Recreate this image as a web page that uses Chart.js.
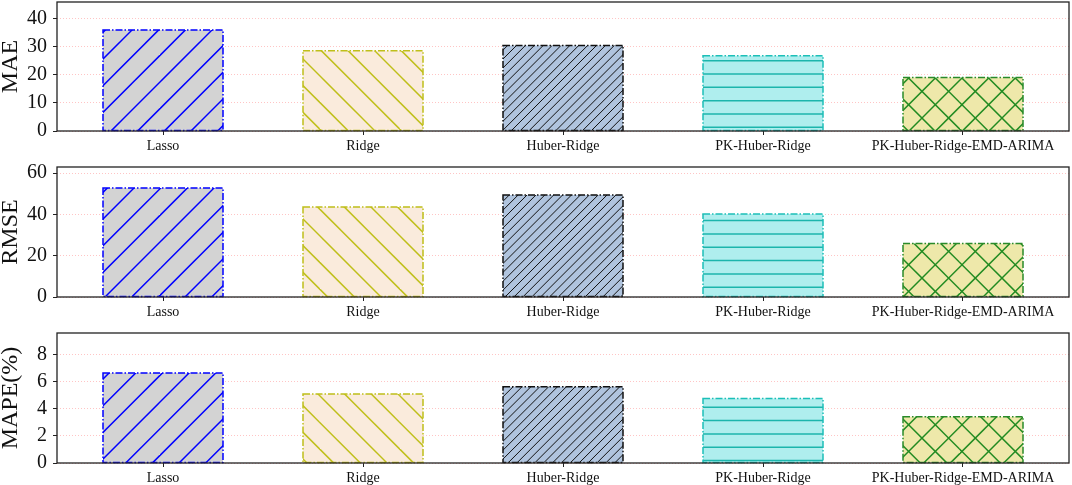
<!DOCTYPE html>
<html>
<head>
<meta charset="utf-8">
<script src="https://cdn.jsdelivr.net/npm/chart.js@4.4.1/dist/chart.umd.min.js"></script>
<style>
  html, body { margin: 0; padding: 0; background: #ffffff; }
  body { width: 1072px; height: 485px; position: relative; overflow: hidden; }
  .panel { position: absolute; left: 0; width: 1072px; }
</style>
</head>
<body>
<div class="panel" id="p1" style="top:0px;height:160px;"><canvas id="c1"></canvas></div>
<div class="panel" id="p2" style="top:160px;height:165px;"><canvas id="c2"></canvas></div>
<div class="panel" id="p3" style="top:325px;height:160px;"><canvas id="c3"></canvas></div>
<script>
// ---------------- data ----------------
const categories = ['Lasso', 'Ridge', 'Huber-Ridge', 'PK-Huber-Ridge', 'PK-Huber-Ridge-EMD-ARIMA'];
const maeValues  = [36.0, 28.6, 30.5, 26.8, 19.1];
const rmseValues = [52.8, 43.6, 49.4, 40.2, 25.9];
const mapeValues = [6.64, 5.09, 5.63, 4.77, 3.41];

const maeTicks  = { max: 46,  step: 10 };
const rmseTicks = { max: 63,  step: 20 };
const mapeTicks = { max: 9.6, step: 2 };

// ---------------- styles ----------------
const barStyles = [
  { fill: '#d3d3d3', hatch: '/',   hatchColor: '#0000ff', hatchWidth: 1.5, spacing: 26.67, edge: '#0000ff' },
  { fill: '#faebdc', hatch: '\\',  hatchColor: '#bfbf1a', hatchWidth: 1.5, spacing: 26.67, edge: '#bfbf1a' },
  { fill: '#b0c4de', hatch: '/',   hatchColor: '#111111', hatchWidth: 1.0, spacing: 8.89,  edge: '#111111' },
  { fill: '#afeeee', hatch: '-',   hatchColor: '#1cb5ac', hatchWidth: 1.5, spacing: 13.33, edge: '#1cbfb8' },
  { fill: '#eee8aa', hatch: 'x',   hatchColor: '#228b22', hatchWidth: 1.5, spacing: 26.67, edge: '#2a8a2a' }
];
const phases = { '/': 2, '\\': 4, '-': 7.3, 'x1': 0, 'x2': 3.9 };

function mod(a, m) { return ((a % m) + m) % m; }

function makePattern(st, offsetY) {
  const s = st.spacing;
  const T = st.hatch === '-' ? Math.round(s * 3) : 80;
  const cv = document.createElement('canvas');
  cv.width = T; cv.height = T;
  const g = cv.getContext('2d');
  g.fillStyle = st.fill;
  g.fillRect(0, 0, T, T);
  g.strokeStyle = st.hatchColor;
  g.lineWidth = st.hatchWidth;
  g.lineCap = 'butt';
  const slash = (ph) => {
    const c0 = mod(ph - offsetY, s);
    for (let c = c0 - 2 * s; c <= 2 * T + 2 * s; c += s) {
      g.beginPath(); g.moveTo(c + 2, -2); g.lineTo(c - T - 2, T + 2); g.stroke();
    }
  };
  const back = (ph) => {
    const c0 = mod(ph + offsetY, s);
    for (let c = c0 - T - 2 * s; c <= T + 2 * s; c += s) {
      g.beginPath(); g.moveTo(c - 2, -2); g.lineTo(c + T + 2, T + 2); g.stroke();
    }
  };
  if (st.hatch === '/') slash(phases['/']);
  else if (st.hatch === '\\') back(phases['\\']);
  else if (st.hatch === 'x') { slash(phases.x1); back(phases.x2); }
  else if (st.hatch === '-') {
    const c0 = mod(phases['-'] - offsetY, s);
    for (let c = c0 - s; c <= T + s; c += s) {
      g.beginPath(); g.moveTo(-2, c); g.lineTo(T + 2, c); g.stroke();
    }
  }
  return g.createPattern(cv, 'repeat');
}

// frame + dashed bar edges
const edgePlugin = {
  id: 'edges',
  afterDatasetsDraw(chart) {
    const ctx = chart.ctx;
    const meta = chart.getDatasetMeta(0);
    ctx.save();
    meta.data.forEach((el, i) => {
      const p = el.getProps(['x', 'y', 'base', 'width'], true);
      ctx.strokeStyle = barStyles[i].edge;
      ctx.lineWidth = 1.5;
      ctx.setLineDash([7, 2, 1.5, 2]);
      ctx.strokeRect(p.x - p.width / 2, p.y, p.width, p.base - p.y);
    });
    ctx.restore();
    const a = chart.chartArea;
    ctx.save();
    ctx.strokeStyle = '#222222';
    ctx.lineWidth = 1.3;
    ctx.setLineDash([]);
    ctx.strokeRect(a.left, a.top, a.right - a.left, a.bottom - a.top);
    ctx.restore();
  }
};

function makeChart(canvasId, values, title, tk, offsetY, padTop, xHeight) {
  const patterns = barStyles.map(st => makePattern(st, offsetY));
  return new Chart(document.getElementById(canvasId), {
    type: 'bar',
    data: {
      datasets: [{
        data: values.map((v, i) => ({ x: i, y: v })),
        backgroundColor: patterns,
        borderWidth: 0,
        barPercentage: 0.6,
        categoryPercentage: 1.0
      }]
    },
    options: {
      responsive: true,
      maintainAspectRatio: false,
      animation: false,
      devicePixelRatio: 1,
      layout: { padding: { top: padTop, right: 3, left: 0, bottom: 0 } },
      plugins: { legend: { display: false }, tooltip: { enabled: false } },
      scales: {
        x: {
          type: 'linear',
          min: -0.53,
          max: 4.53,
          offset: false,
          afterBuildTicks: (s) => { s.ticks = categories.map((c, i) => ({ value: i })); },
          afterFit: (s) => { s.height = xHeight; s.paddingLeft = 0; s.paddingRight = 0; },
          ticks: {
            autoSkip: false,
            maxRotation: 0,
            minRotation: 0,
            padding: 3,
            color: '#111111',
            font: { family: 'Liberation Serif', size: 14 },
            callback: (v) => categories[v]
          },
          grid: { offset: false, drawOnChartArea: false, drawTicks: true, tickLength: 4, tickColor: '#222222', tickWidth: 1 },
          border: { display: false }
        },
        y: {
          min: 0,
          max: tk.max,
          afterFit: (s) => { s.width = 57; s.paddingTop = 0; s.paddingBottom = 0; },
          ticks: {
            stepSize: tk.step,
            includeBounds: false,
            padding: 6,
            color: '#111111',
            font: { family: 'Liberation Serif', size: 20 }
          },
          grid: {
            color: 'rgba(255, 90, 90, 0.35)',
            lineWidth: 1,
            drawTicks: true,
            tickLength: 4,
            tickColor: '#222222',
            tickWidth: 1,
            tickBorderDash: []
          },
          border: { display: false, dash: [1, 2] },
          title: {
            display: true,
            text: title,
            color: '#111111',
            padding: { top: 0, bottom: 0 },
            font: { family: 'Liberation Serif', size: 24, lineHeight: 0.92 }
          }
        }
      }
    },
    plugins: [edgePlugin]
  });
}

makeChart('c1', maeValues,  'MAE',     maeTicks,  0,   2, 29);
makeChart('c2', rmseValues, 'RMSE',    rmseTicks, 160, 7, 28);
makeChart('c3', mapeValues, 'MAPE(%)', mapeTicks, 325, 8, 22);
</script>
</body>
</html>
